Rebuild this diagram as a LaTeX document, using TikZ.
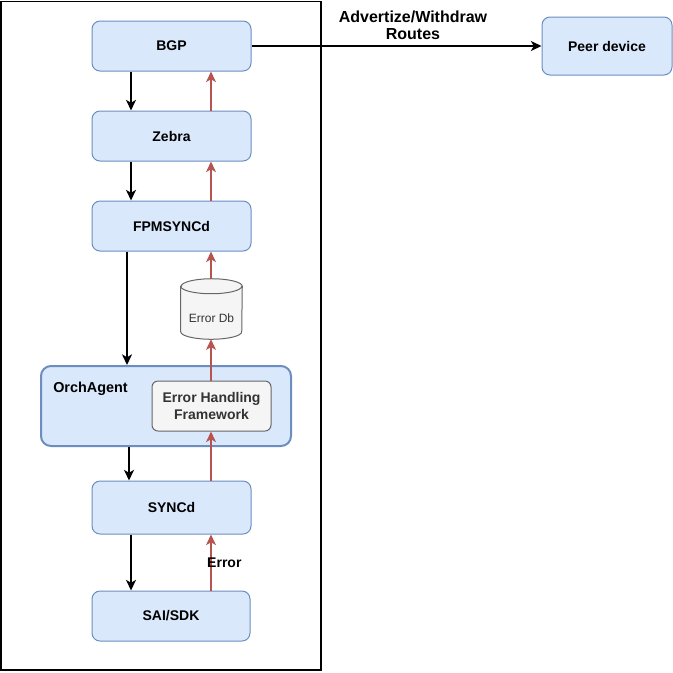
\documentclass[tikz,border=0pt]{standalone}
\usepackage{fontspec}
\setmainfont{Liberation Sans}
\usetikzlibrary{arrows.meta}
\definecolor{bfill}{HTML}{DAE8FC}
\definecolor{bdraw}{HTML}{6C8EBF}
\definecolor{gfill}{HTML}{F5F5F5}
\definecolor{gdraw}{HTML}{666666}
\definecolor{gtext}{HTML}{333333}
\definecolor{redl}{HTML}{B85450}
\begin{document}
\begin{tikzpicture}[x=0.75pt,y=-0.75pt,
  box/.style={draw=bdraw, fill=bfill, rounded corners=6pt, line width=0.75pt,
    minimum width=119.25pt, minimum height=37.5pt, inner sep=0pt,
    font=\fontsize{10.5}{12}\selectfont\bfseries},
  grpbox/.style={draw=bdraw, fill=bfill, rounded corners=7.5pt, line width=1.5pt,
    minimum width=187.5pt, minimum height=60pt, inner sep=0pt},
  ehfbox/.style={draw=gdraw, fill=gfill, rounded corners=4.5pt, line width=0.75pt,
    minimum width=89.25pt, minimum height=37.5pt, inner sep=0pt, text=gtext, align=center,
    font=\fontsize{10.5}{12.5}\selectfont\bfseries},
  cyl/.style={draw=gdraw, fill=gfill, line width=0.75pt},
  plain/.style={inner sep=0pt, font=\fontsize{10.5}{12}\selectfont\bfseries},
  blk/.style={draw=black, line width=1.1pt, -{Stealth[length=8pt,width=7.5pt,inset=2.2pt]}},
  redarr/.style={draw=redl, line width=1.1pt, -{Stealth[length=8pt,width=7.5pt,inset=2.2pt]}},
  frame/.style={draw=black, line width=1.1pt}
]
\useasboundingbox (0,0) rectangle (673,672);
\draw[frame] (1,1.5) rectangle (321,670);

\node[box] (bgp) at (171.5,46) {BGP};
\node[box] (zebra) at (171.5,136) {Zebra};
\node[box] (fpm) at (171.5,226) {FPMSYNCd};
\node[grpbox] (orch) at (166,406) {};
\node[plain, anchor=west, font=\fontsize{10.8}{12}\selectfont\bfseries] (orchlbl) at (53,389) {OrchAgent};
\node[ehfbox] (ehf) at (211.5,406) {Error Handling\\Framework};
\node[box, minimum height=39.75pt] (syncd) at (171.5,507.5) {SYNCd};
\node[box, minimum width=118.5pt] (sai) at (171,616) {SAI/SDK};
\node[box, minimum width=97.5pt, minimum height=43.5pt] (peer) at (607,46) {Peer device};

% database cylinder
\node[minimum width=45.75pt, minimum height=45pt, inner sep=0pt] (db) at (211.5,309) {};
\draw[cyl] ([yshift=-5.625pt]db.north west) -- ([yshift=5.625pt]db.south west)
  arc[start angle=180, end angle=360, x radius=22.875pt, y radius=5.625pt]
  -- ([yshift=-5.625pt]db.north east)
  arc[start angle=0, end angle=180, x radius=22.875pt, y radius=5.625pt] -- cycle;
\draw[cyl, fill=none] ([yshift=-5.625pt]db.north west)
  arc[start angle=180, end angle=360, x radius=22.875pt, y radius=5.625pt];
\node[inner sep=0pt, text=gtext, font=\fontsize{9}{11}\selectfont] (dblbl) at (211.5,318) {Error Db};

% black downward flow
\draw[blk] (bgp.south -| 131,0) -- (zebra.north -| 131,0);
\draw[blk] (zebra.south -| 131,0) -- (fpm.north -| 131,0);
\draw[blk] (fpm.south -| 127,0) -- (orch.north -| 127,0);
\draw[blk] (orch.south -| 129,0) -- (syncd.north -| 129,0);
\draw[blk] (syncd.south -| 131,0) -- (sai.north -| 131,0);

% red upward error flow
\draw[redarr] (sai.north -| 211,0) -- (syncd.south -| 211,0)
  node[midway, xshift=10pt, plain, text=black] (errlbl) {Error};
\draw[redarr] (syncd.north -| 211,0) -- (ehf.south -| 211,0);
\draw[redarr] (ehf.north -| 211,0) -- (db.south -| 211,0);
\draw[redarr] (db.north -| 211,0) -- (fpm.south -| 211,0);
\draw[redarr] (fpm.north -| 211,0) -- (zebra.south -| 211,0);
\draw[redarr] (zebra.north -| 211,0) -- (bgp.south -| 211,0);

% to peer
\draw[blk] (bgp.east) -- (peer.west);
\node[align=center, inner sep=0pt, font=\fontsize{12}{13}\selectfont\bfseries] (advlbl) at (413,25) {Advertize/Withdraw\\Routes};
\end{tikzpicture}
\end{document}
